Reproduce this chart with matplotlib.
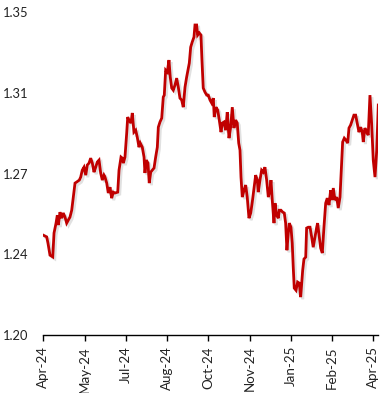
import datetime as dt
import matplotlib
matplotlib.use("Agg")
import matplotlib.pyplot as plt
import matplotlib.dates as mdates
import matplotlib.patheffects as pe

# days after the first tick (Apr-24)
days = [0, 3.7, 5.1, 7.3, 10.3, 11.7, 13.9, 15.3, 16.4, 18.2, 20.1, 21.8, 23.7, 25.5,
        27.3, 29.1, 31.0, 32.7, 34.6, 36.4, 39.3, 40.8, 42.5, 44.4, 46.3, 48.0, 49.9,
        51.7, 53.5, 55.3, 57.2, 58.9, 60.8, 62.6, 64.4, 66.2, 67.3, 69.2, 70.9, 72.8,
        74.6, 76.4, 78.2, 81.2, 82.6, 84.8, 86.2, 87.3, 89.1, 91.0, 92.1, 93.5, 95.6,
        97.1, 98.9, 100.8, 102.5, 104.4, 105.8, 108.0, 109.9, 110.9, 112.4, 114.2,
        115.6, 117.2, 118.9, 120.8, 122.6, 124.4, 125.5, 127.3, 129.2, 130.9, 132.0,
        133.5, 135.3, 137.1, 138.5, 140.1, 141.8, 143.7, 145.5, 147.3, 149.1, 151.0,
        152.7, 154.6, 156.4, 158.2, 159.3, 160.8, 162.5, 164.4, 165.5, 167.3, 168.4,
        170.2, 172.0, 173.1, 174.5, 176.4, 178.3, 180.0, 181.9, 183.7, 185.5, 186.5,
        188.4, 190.3, 192.0, 193.9, 195.3, 197.1, 199.0, 200.7, 202.6, 204.4, 206.2,
        208.0, 209.9, 211.6, 213.2, 214.6, 215.7, 217.1, 219.0, 220.8, 222.5, 224.4,
        226.3, 228.0, 229.9, 231.7, 233.5, 234.5, 236.4, 238.2, 240.0, 241.8, 243.7,
        245.5, 247.3, 248.4, 249.8, 251.7, 252.8, 254.6, 256.4, 257.5, 259.3, 261.2,
        262.9, 264.4, 265.8, 267.3, 268.4, 270.2, 271.6, 272.7, 273.8, 275.7, 277.5,
        279.3, 280.8, 283.0, 284.4, 286.3, 287.3, 289.1, 291.0, 292.8, 294.5, 296.4,
        298.3, 299.3, 301.1, 302.6, 304.4, 306.2, 308.1, 309.8, 311.7, 313.5, 314.9,
        316.4, 318.2, 320.1, 321.8, 323.7, 325.1, 326.6, 328.4, 330.2, 332.1, 333.5,
        335.3, 337.1, 338.9, 340.8, 342.5, 344.4, 346.3, 348.0, 349.1, 350.9, 352.8,
        354.5, 356.4, 358.2, 360.0, 361.9, 363.8, 365.5]

rate = [1.2464, 1.2456, 1.2427, 1.2371, 1.2363, 1.2474, 1.2520, 1.2557, 1.2511, 1.2571,
        1.2543, 1.2567, 1.2548, 1.2520, 1.2534, 1.2548, 1.2580, 1.2641, 1.2706, 1.2711,
        1.2720, 1.2734, 1.2766, 1.2780, 1.2743, 1.2790, 1.2799, 1.2822, 1.2799, 1.2757,
        1.2780, 1.2804, 1.2813, 1.2753, 1.2720, 1.2743, 1.2734, 1.2706, 1.2660, 1.2687,
        1.2636, 1.2664, 1.2660, 1.2664, 1.2766, 1.2827, 1.2822, 1.2799, 1.2827, 1.2939,
        1.3013, 1.2999, 1.2985, 1.3032, 1.2943, 1.2952, 1.2920, 1.2873, 1.2892, 1.2873,
        1.2827, 1.2753, 1.2813, 1.2799, 1.2706, 1.2757, 1.2766, 1.2776, 1.2827, 1.2873,
        1.2966, 1.2990, 1.3008, 1.3106, 1.3115, 1.3231, 1.3222, 1.3278, 1.3199, 1.3148,
        1.3138, 1.3162, 1.3194, 1.3152, 1.3101, 1.3092, 1.3059, 1.3152, 1.3199, 1.3241,
        1.3264, 1.3338, 1.3362, 1.3385, 1.3441, 1.3441, 1.3394, 1.3404, 1.3394, 1.3278,
        1.3148, 1.3129, 1.3115, 1.3115, 1.3092, 1.3078, 1.3101, 1.3013, 1.3059, 1.3045,
        1.2999, 1.2943, 1.2985, 1.2990, 1.2952, 1.3036, 1.2915, 1.2966, 1.3059, 1.2962,
        1.2999, 1.2985, 1.2892, 1.2859, 1.2734, 1.2641, 1.2673, 1.2697, 1.2641, 1.2543,
        1.2567, 1.2618, 1.2683, 1.2743, 1.2720, 1.2664, 1.2720, 1.2766, 1.2757, 1.2780,
        1.2720, 1.2641, 1.2673, 1.2720, 1.2627, 1.2520, 1.2613, 1.2557, 1.2543, 1.2580,
        1.2580, 1.2571, 1.2567, 1.2520, 1.2394, 1.2474, 1.2520, 1.2501, 1.2427, 1.2315,
        1.2218, 1.2208, 1.2246, 1.2241, 1.2176, 1.2301, 1.2353, 1.2362, 1.2497, 1.2501,
        1.2501, 1.2455, 1.2408, 1.2455, 1.2501, 1.2520, 1.2455, 1.2404, 1.2381, 1.2501,
        1.2613, 1.2636, 1.2604, 1.2673, 1.2627, 1.2683, 1.2627, 1.2641, 1.2590, 1.2641,
        1.2766, 1.2897, 1.2915, 1.2906, 1.2892, 1.2962, 1.2976, 1.2999, 1.3022, 1.3022,
        1.2985, 1.2943, 1.2966, 1.2943, 1.2897, 1.2962, 1.2943, 1.2929, 1.3115, 1.2985,
        1.2813, 1.2734, 1.2859, 1.3069]

start = dt.date(2024, 4, 15)
tick_step = 45   # days between labelled dates
n_ticks = 9
yticks = [1.20, 1.2375, 1.275, 1.3125, 1.35]

x0 = mdates.date2num(start)
x = [x0 + d for d in days]

plt.rcParams['font.family'] = ['Lato', 'DejaVu Sans']

fig = plt.figure(figsize=(3.88, 3.93), dpi=100)
ax = fig.add_axes([0.1116, 0.1476, 0.8634, 0.8211])

ax.plot(x, rate, color='#C00000', lw=2.0, solid_joinstyle='miter',
        path_effects=[pe.SimpleLineShadow(offset=(1.5, -1.5), shadow_color='#888888', alpha=0.25),
                      pe.Normal()])

ax.set_ylim(1.20, 1.35)
ax.set_yticks(yticks)
ax.set_yticklabels(['%.2f' % v for v in yticks])
ax.set_xlim(x0, x0 + days[-1])
ax.set_xticks([x0 + tick_step * k for k in range(n_ticks)])
ax.xaxis.set_major_formatter(mdates.DateFormatter('%b-%y'))

for s in ['top', 'right', 'left']:
    ax.spines[s].set_visible(False)
ax.spines['bottom'].set_color('#000000')
ax.spines['bottom'].set_linewidth(1.0)

ax.tick_params(axis='y', length=0, pad=10.5, labelsize=9.3, labelcolor='#222222')
ax.tick_params(axis='x', length=4, width=1.0, direction='out', pad=4,
               labelsize=9.6, labelrotation=90, labelcolor='#222222')

fig.savefig('out.png', dpi=100)
